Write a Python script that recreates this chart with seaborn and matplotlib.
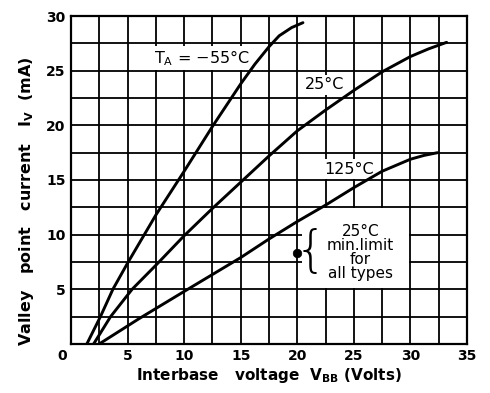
import matplotlib
matplotlib.use("Agg")
import matplotlib.pyplot as plt
from matplotlib.patches import Rectangle
from matplotlib.transforms import ScaledTranslation
import numpy as np
import pandas as pd
import seaborn as sns

# Valley point current I_V (mA) against interbase voltage V_BB (V)
v_m55 = [1.4, 2.6, 3.7, 5.0, 7.5, 10.0, 12.5, 15.0, 16.25, 17.5, 18.4, 19.5, 20.5]
i_m55 = [0.0, 2.5, 5.0, 7.4, 11.8, 15.8, 19.9, 23.8, 25.6, 27.2, 28.2, 28.95, 29.4]

v_25 = [2.0, 3.5, 5.4, 7.5, 10.0, 12.5, 15.0, 17.5, 20.0, 22.5, 25.0, 27.5, 30.0, 31.6, 33.2]
i_25 = [0.0, 2.5, 5.0, 7.2, 9.9, 12.4, 14.8, 17.2, 19.5, 21.4, 23.2, 24.9, 26.3, 27.0, 27.6]

v_125 = [2.5, 6.0, 10.0, 15.0, 17.5, 20.0, 22.5, 25.0, 27.5, 30.0, 31.2, 32.4]
i_125 = [0.0, 2.3, 4.8, 7.9, 9.6, 11.2, 12.7, 14.3, 15.8, 16.9, 17.25, 17.5]

# 25 degC minimum limit for all types
limit_v = [20.0]
limit_i = [8.3]

x_ticks = [0, 5, 10, 15, 20, 25, 30, 35]
y_ticks = [5, 10, 15, 20, 25, 30]

curves = pd.concat([
    pd.DataFrame({"V": v_m55, "I": i_m55, "T": "-55"}),
    pd.DataFrame({"V": v_25, "I": i_25, "T": "25"}),
    pd.DataFrame({"V": v_125, "I": i_125, "T": "125"}),
], ignore_index=True)

sns.set_style("white")
plt.rcParams["font.family"] = ["DejaVu Sans"]
plt.rcParams["text.color"] = "black"
plt.rcParams["axes.labelcolor"] = "black"

fig = plt.figure(figsize=(4.9, 3.93), dpi=100)
ax = fig.add_axes([0.145, 0.125, 0.808, 0.834])

sns.lineplot(data=curves, x="V", y="I", hue="T", units="T", estimator=None,
             sort=False, palette=["black"] * 3, linewidth=2.1, legend=False,
             ax=ax, zorder=3)
sns.scatterplot(x=limit_v, y=limit_i, color="black", s=38, ax=ax, zorder=4,
                edgecolor="black")

ax.set_xlim(0, 35)
ax.set_ylim(0, 30)
ax.set_xticks(x_ticks)
ax.set_xticklabels([str(t) for t in x_ticks], fontweight="bold")
ax.set_yticks(y_ticks)
ax.set_yticklabels([str(t) for t in y_ticks], fontweight="bold")
ax.set_xticks(np.arange(2.5, 35, 5), minor=True)
ax.set_yticks(np.arange(2.5, 30, 5), minor=True)
ax.tick_params(which="both", length=0, labelsize=10, colors="black", pad=4)
ax.set_axisbelow(True)
ax.grid(which="both", color="black", linewidth=1.3)
for s in ax.spines.values():
    s.set_color("black")
    s.set_linewidth(1.6)

# shift the shared origin label left of the corner
lab0 = ax.get_xticklabels()[0]
lab0.set_transform(lab0.get_transform() + ScaledTranslation(-0.09, 0, fig.dpi_scale_trans))

ax.set_xlabel(r"Interbase   voltage  $\mathregular{V_{BB}}$ (Volts)", fontsize=11,
              fontweight="bold", labelpad=2)
ax.set_ylabel(r"Valley   point   current   $\mathregular{I_V}$  (mA)", fontsize=11.5,
              fontweight="bold")
ax.yaxis.set_label_coords(-0.088, 0.436)

box = dict(facecolor="white", edgecolor="none", pad=1.5)
ax.text(11.6, 26.15, r"$\mathregular{T_A}$ = −55°C", fontsize=11.5, ha="center",
        va="center", bbox=box, zorder=2.5)
ax.text(22.45, 23.7, "25°C", fontsize=11.5, ha="center", va="center",
        bbox=box, zorder=2.5)
ax.text(24.6, 16.0, "125°C", fontsize=11.5, ha="center", va="center",
        bbox=box, zorder=2.5)

ax.add_patch(Rectangle((20.4, 5.1), 9.45, 7.3, facecolor="white",
                       edgecolor="none", zorder=1.5))
ax.text(25.6, 8.4, "25°C\nmin.limit\nfor\nall types", fontsize=11, ha="center",
        va="center", linespacing=0.92, zorder=2.5)
ax.text(21.15, 8.45, "{", fontsize=36, ha="center", va="center",
        fontweight="light", zorder=2.5)

fig.savefig("out.png", dpi=100)
